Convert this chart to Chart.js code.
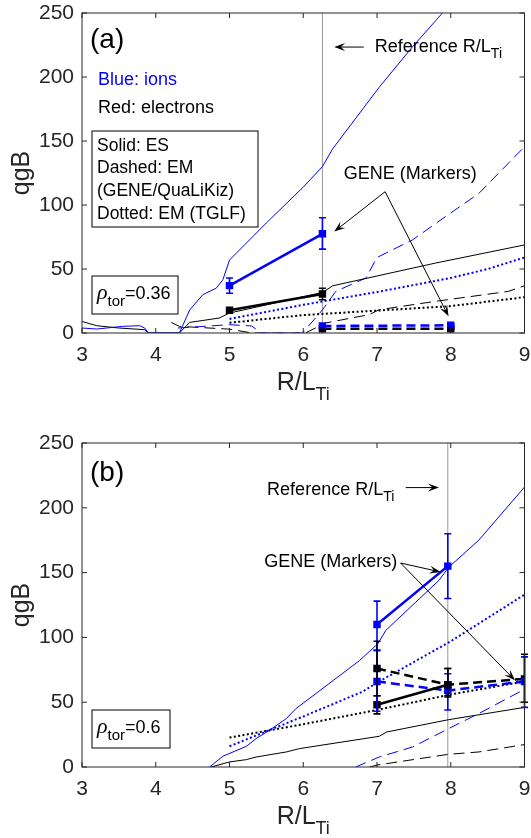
<!DOCTYPE html>
<html lang="en">
<head>
<meta charset="UTF-8">
<title>Heat flux scans vs R/LTi</title>
<script src="https://cdn.jsdelivr.net/npm/chart.js"></script>
<style>
    body { margin: 0; background: #fff; }
    canvas { position: absolute; left: 0; }
    #panelA { top: 0; }
    #panelB { top: 419px; }
</style>
</head>
<body>
<canvas id="panelA" width="531" height="419"></canvas>
<canvas id="panelB" width="531" height="419"></canvas>
<script>
// x ticks (R/LTi) and y ticks (qgB)
const xTicks = [3, 4, 5, 6, 7, 8, 9];
const yTicks = [0, 50, 100, 150, 200, 250];

// ---------- (a) rho_tor = 0.36 ----------
// QuaLiKiz ES / EM scans
const aEsIonX = [3.0, 3.2, 3.55, 3.78, 3.85, 3.9, 4.32, 4.46, 4.64, 4.82, 4.91, 5.0, 5.5, 6.0, 6.26, 6.4, 7.03, 7.48, 7.88, 8.1];
const aEsIonY = [3.9, 3.1, 5.2, 5.7, 3.9, 0, 0, 18, 30, 35, 41.6, 57, 86, 114, 130, 144, 192, 223.5, 249.5, 265];
const aEsEleX = [3.0, 3.2, 3.5, 3.85, 3.9, 4.32, 4.46, 4.64, 4.86, 5.0, 6.26, 6.4, 7.79, 9.0];
const aEsEleY = [9, 5.7, 3.9, 2.6, 0, 0, 8.3, 9.8, 11.7, 15.6, 31.7, 36.9, 54.6, 68.8];
const aEmIonX = [4.3, 5.0, 5.3, 5.43, 5.99, 6.26, 6.44, 6.85, 7.0, 7.48, 7.93, 8.38, 9.0];
const aEmIonY = [3.9, 6.5, 5.5, 0, 0, 18, 32.5, 43, 59, 72.7, 91, 109, 145.5];
const aEmEleX = [4.21, 4.32, 5.0, 5.31, 6.03, 6.3, 6.89, 7.03, 7.79, 8.78, 9.0];
const aEmEleY = [8.3, 5.2, 3, 0, 0, 7.8, 14.3, 18.2, 24.7, 32.5, 36.9];
// TGLF EM
const aTglfIonX = [5, 6, 7, 8, 8.5, 9];
const aTglfIonY = [11, 22, 32, 43, 50, 59];
const aTglfEleX = [5, 6, 7, 8, 9];
const aTglfEleY = [8, 14, 17.5, 21, 28];
// GENE markers with error ranges
const aGeneEsX = [5, 6.26];
const aGeneIonEs = [37, 77.5], aGeneIonEsLo = [31, 65.5], aGeneIonEsHi = [43, 90];
const aGeneEleEs = [17.7, 30.4], aGeneEleEsLo = [16, 26], aGeneEleEsHi = [19.5, 35];
const aGeneEmX = [6.26, 8];
const aGeneIonEm = [5.5, 6], aGeneIonEmLo = [4.7, 5.2], aGeneIonEmHi = [6.3, 6.8];
const aGeneEleEm = [3.3, 3.3], aGeneEleEmLo = [2.5, 2.5], aGeneEleEmHi = [4.1, 4.1];
const aRefX = 6.26;

// ---------- (b) rho_tor = 0.6 ----------
const bEsIonX = [4.73, 4.91, 5.23, 5.36, 5.54, 5.77, 5.9, 6.76, 7.01, 7.12, 7.84, 7.97, 8.38, 9.0];
const bEsIonY = [0, 8.3, 16, 21.9, 28.3, 37.3, 45, 82, 95, 105.5, 144, 154, 175, 216];
const bEsEleX = [4.75, 5.0, 5.23, 5.36, 5.77, 5.95, 7.03, 7.13, 7.97, 9.0];
const bEsEleY = [0, 3.9, 5.7, 7.7, 11.6, 14.2, 23.7, 27, 36.5, 46];
const bEmIonX = [6.71, 7.03, 7.48, 7.97, 8.38, 9.0];
const bEmIonY = [0, 7.7, 15.4, 29.6, 41.2, 60];
const bEmEleX = [6.9, 7.0, 7.97, 8.38, 9.0];
const bEmEleY = [0, 1.5, 9.8, 11.6, 17.3];
const bTglfIonX = [5, 6, 6.8, 7, 8, 9];
const bTglfIonY = [16, 39, 58, 65, 97, 133];
const bTglfEleX = [5, 6, 7, 8, 9];
const bTglfEleY = [22.7, 33, 44, 56, 66];
const bGeneEsX = [7, 7.96];
const bGeneIonEs = [110, 155], bGeneIonEsLo = [90, 130], bGeneIonEsHi = [128, 180];
const bGeneEleEs = [48, 63.5], bGeneEleEsLo = [41, 55], bGeneEleEsHi = [55, 76];
const bGeneEmX = [7, 7.96, 9];
const bGeneIonEm = [66, 59, 66], bGeneIonEmLo = [43, 44, 46], bGeneIonEmHi = [90, 72, 85];
const bGeneEleEm = [76, 63.5, 68], bGeneEleEmLo = [55, 54, 50], bGeneEleEmHi = [97, 76, 87];
const bRefX = 7.96;

const BLUE = 'rgb(0,0,255)';
const BLACK = '#000';
const AXIS = '#262626';
const SANS = "'Liberation Sans', Arial, sans-serif";

Chart.defaults.font.family = SANS;

const pts = (xs, ys) => xs.map((x, i) => ({ x: x, y: ys[i] }));

function thinLine(xs, ys, color, dash) {
    return { data: pts(xs, ys), borderColor: color, borderWidth: 1, borderDash: dash || [],
             showLine: true, pointRadius: 0, fill: false };
}
function dotLine(xs, ys, color) {
    return { data: pts(xs, ys), borderColor: color, borderWidth: 2, borderDash: [2, 2.4],
             showLine: true, pointRadius: 0, fill: false };
}
function geneLine(xs, ys, lo, hi, color, dash) {
    return { data: pts(xs, ys), borderColor: color, borderWidth: 2.5, borderDash: dash || [],
             showLine: true, pointStyle: 'rect', pointRadius: 3.5,
             pointBackgroundColor: color, pointBorderColor: color, errLo: lo, errHi: hi };
}

// text with optional subscripts: parts = [[text, font, dy], ...]
function drawParts(ctx, x, y, parts, align) {
    let w = 0;
    parts.forEach(p => { ctx.font = p[1]; w += ctx.measureText(p[0]).width; });
    let cx = align === 'center' ? x - w / 2 : x;
    parts.forEach(p => {
        ctx.font = p[1];
        ctx.fillText(p[0], cx, y + (p[2] || 0));
        cx += ctx.measureText(p[0]).width;
    });
}

function arrow(ctx, x1, y1, x2, y2) {
    const a = Math.atan2(y2 - y1, x2 - x1), c = Math.cos(a), s = Math.sin(a);
    const L = 11, W = 4;
    ctx.beginPath();
    ctx.moveTo(x1, y1);
    ctx.lineTo(x2 - 6 * c, y2 - 6 * s);
    ctx.stroke();
    ctx.beginPath();
    ctx.moveTo(x2, y2);
    ctx.lineTo(x2 - L * c + W * s, y2 - L * s - W * c);
    ctx.lineTo(x2 - 0.6 * L * c, y2 - 0.6 * L * s);
    ctx.lineTo(x2 - L * c - W * s, y2 - L * s + W * c);
    ctx.closePath();
    ctx.fill();
}

function makeDecor(cfg) {
    return {
        id: 'decor',
        beforeDatasetsDraw(chart) {
            const { ctx, chartArea: area, scales } = chart;
            const px = scales.x.getPixelForValue(cfg.refX);
            ctx.save();
            ctx.strokeStyle = '#999';
            ctx.lineWidth = 1;
            ctx.beginPath();
            ctx.moveTo(px, area.top);
            ctx.lineTo(px, area.bottom);
            ctx.stroke();
            ctx.restore();
        },
        afterDatasetsDraw(chart) {
            const { ctx, scales } = chart;
            ctx.save();
            chart.data.datasets.forEach(ds => {
                if (!ds.errLo) return;
                ctx.strokeStyle = ds.borderColor;
                ctx.lineWidth = 1.6;
                ds.data.forEach((p, i) => {
                    const x = scales.x.getPixelForValue(p.x);
                    const y1 = scales.y.getPixelForValue(ds.errLo[i]);
                    const y2 = scales.y.getPixelForValue(ds.errHi[i]);
                    ctx.beginPath();
                    ctx.moveTo(x, y1); ctx.lineTo(x, y2);
                    ctx.moveTo(x - 3.5, y1); ctx.lineTo(x + 3.5, y1);
                    ctx.moveTo(x - 3.5, y2); ctx.lineTo(x + 3.5, y2);
                    ctx.stroke();
                });
            });
            ctx.restore();
        },
        afterDraw(chart) {
            const { ctx, chartArea: area, scales } = chart;
            const X = v => scales.x.getPixelForValue(v);
            const Y = v => scales.y.getPixelForValue(v);
            ctx.save();

            // axes box with inward ticks on all sides
            ctx.strokeStyle = AXIS;
            ctx.lineWidth = 1;
            ctx.strokeRect(area.left, area.top, area.right - area.left, area.bottom - area.top);
            ctx.beginPath();
            xTicks.forEach(v => {
                const x = X(v);
                ctx.moveTo(x, area.bottom); ctx.lineTo(x, area.bottom - 5);
                ctx.moveTo(x, area.top); ctx.lineTo(x, area.top + 5);
            });
            yTicks.forEach(v => {
                const y = Y(v);
                ctx.moveTo(area.left, y); ctx.lineTo(area.left + 5, y);
                ctx.moveTo(area.right, y); ctx.lineTo(area.right - 5, y);
            });
            ctx.stroke();

            // axis titles
            ctx.fillStyle = AXIS;
            ctx.textBaseline = 'alphabetic';
            drawParts(ctx, (area.left + area.right) / 2, area.bottom + 57,
                [['R/L', '25px ' + SANS, 0], ['Ti', '18px ' + SANS, 10]], 'center');
            ctx.save();
            ctx.translate(22, (area.top + area.bottom) / 2);
            ctx.rotate(-Math.PI / 2);
            ctx.textAlign = 'center';
            ctx.textBaseline = 'middle';
            ctx.font = '25px ' + SANS;
            ctx.fillText('qgB', 0, 0);
            ctx.restore();

            ctx.fillStyle = '#000';
            ctx.strokeStyle = '#000';
            ctx.textBaseline = 'middle';

            // panel tag
            ctx.font = '28px ' + SANS;
            ctx.fillText(cfg.tag, area.left + 8, area.top + cfg.tagY);

            // colour / line style legend
            if (cfg.legend) {
                ctx.font = '18px ' + SANS;
                ctx.fillStyle = BLUE;
                ctx.fillText('Blue: ions', area.left + 16, area.top + 67);
                ctx.fillStyle = '#000';
                ctx.fillText('Red: electrons', area.left + 16, area.top + 95);
                ctx.lineWidth = 1;
                ctx.strokeRect(area.left + 10, area.top + 118, 166, 96);
                ctx.font = '17.5px ' + SANS;
                ['Solid: ES', 'Dashed: EM', '(GENE/QuaLiKiz)', 'Dotted: EM (TGLF)'].forEach((t, i) => {
                    ctx.fillText(t, area.left + 15, area.top + 133 + i * 22.6);
                });
            }

            // rho_tor box
            ctx.lineWidth = 1;
            ctx.strokeRect(area.left + 10, area.bottom - 57, cfg.rhoW, 38);
            ctx.textBaseline = 'alphabetic';
            drawParts(ctx, area.left + 15, area.bottom - 34, [
                ['\u03c1', 'italic 22px "Liberation Serif", serif', 0],
                ['tor', '15px ' + SANS, 7],
                ['=' + cfg.rho, '18px ' + SANS, 0]
            ], 'left');

            // annotations
            ctx.textBaseline = 'middle';
            drawParts(ctx, X(cfg.refText[0]), Y(cfg.refText[1]),
                [['Reference R/L', '18px ' + SANS, 0], ['Ti', '14px ' + SANS, 7]], 'left');
            ctx.font = '18px ' + SANS;
            ctx.fillText('GENE (Markers)', X(cfg.geneText[0]), Y(cfg.geneText[1]));
            ctx.lineWidth = 1;
            cfg.arrows.forEach(a => arrow(ctx, X(a[0]), Y(a[1]), X(a[2]), Y(a[3])));

            ctx.restore();
        }
    };
}

function makePanel(id, datasets, cfg) {
    return new Chart(document.getElementById(id), {
        type: 'scatter',
        data: { datasets: datasets },
        options: {
            responsive: false,
            animation: false,
            layout: { padding: { top: cfg.padTop, right: 5, left: 0, bottom: 0 } },
            plugins: { legend: { display: false }, tooltip: { enabled: false } },
            scales: {
                x: {
                    type: 'linear', min: 3, max: 9,
                    afterBuildTicks: s => { s.ticks = xTicks.map(v => ({ value: v })); },
                    afterFit: s => { s.height = cfg.xHeight; s.paddingLeft = 0; s.paddingRight = 0; },
                    grid: { display: false, drawTicks: false },
                    border: { display: false },
                    ticks: { color: AXIS, font: { size: 21 }, padding: 10 }
                },
                y: {
                    type: 'linear', min: 0, max: 250,
                    afterBuildTicks: s => { s.ticks = yTicks.map(v => ({ value: v })); },
                    afterFit: s => { s.width = 82; s.paddingTop = 0; s.paddingBottom = 0; },
                    grid: { display: false, drawTicks: false },
                    border: { display: false },
                    ticks: { color: AXIS, font: { size: 21 }, padding: 8 }
                }
            }
        },
        plugins: [makeDecor(cfg)]
    });
}

makePanel('panelA', [
    geneLine(aGeneEsX, aGeneIonEs, aGeneIonEsLo, aGeneIonEsHi, BLUE),
    geneLine(aGeneEsX, aGeneEleEs, aGeneEleEsLo, aGeneEleEsHi, BLACK),
    geneLine(aGeneEmX, aGeneIonEm, aGeneIonEmLo, aGeneIonEmHi, BLUE, [9, 5]),
    geneLine(aGeneEmX, aGeneEleEm, aGeneEleEmLo, aGeneEleEmHi, BLACK, [9, 5]),
    dotLine(aTglfIonX, aTglfIonY, BLUE),
    dotLine(aTglfEleX, aTglfEleY, BLACK),
    thinLine(aEsIonX, aEsIonY, BLUE),
    thinLine(aEsEleX, aEsEleY, BLACK),
    thinLine(aEmIonX, aEmIonY, BLUE, [11, 6]),
    thinLine(aEmEleX, aEmEleY, BLACK, [11, 6])
], {
    padTop: 13, xHeight: 86, tag: '(a)', tagY: 27, legend: true,
    rho: '0.36', rhoW: 86, refX: aRefX,
    refText: [6.97, 223.4], geneText: [6.55, 124],
    arrows: [[6.82, 223.4, 6.42, 223.4], [7.11, 110.4, 6.42, 79.2], [7.11, 110.4, 7.97, 13]]
});

makePanel('panelB', [
    geneLine(bGeneEsX, bGeneIonEs, bGeneIonEsLo, bGeneIonEsHi, BLUE),
    geneLine(bGeneEsX, bGeneEleEs, bGeneEleEsLo, bGeneEleEsHi, BLACK),
    geneLine(bGeneEmX, bGeneIonEm, bGeneIonEmLo, bGeneIonEmHi, BLUE, [9, 5]),
    geneLine(bGeneEmX, bGeneEleEm, bGeneEleEmLo, bGeneEleEmHi, BLACK, [9, 5]),
    dotLine(bTglfIonX, bTglfIonY, BLUE),
    dotLine(bTglfEleX, bTglfEleY, BLACK),
    thinLine(bEsIonX, bEsIonY, BLUE),
    thinLine(bEsEleX, bEsEleY, BLACK),
    thinLine(bEmIonX, bEmIonY, BLUE, [11, 6]),
    thinLine(bEmEleX, bEmEleY, BLACK, [11, 6])
], {
    padTop: 24, xHeight: 71, tag: '(b)', tagY: 30, legend: false,
    rho: '0.6', rhoW: 78, refX: bRefX,
    refText: [5.51, 213.5], geneText: [5.47, 158.2],
    arrows: [[7.39, 215.6, 7.84, 215.6], [7.32, 157.4, 7.86, 150.5], [7.32, 157.4, 8.87, 66.9]]
});
</script>
</body>
</html>
